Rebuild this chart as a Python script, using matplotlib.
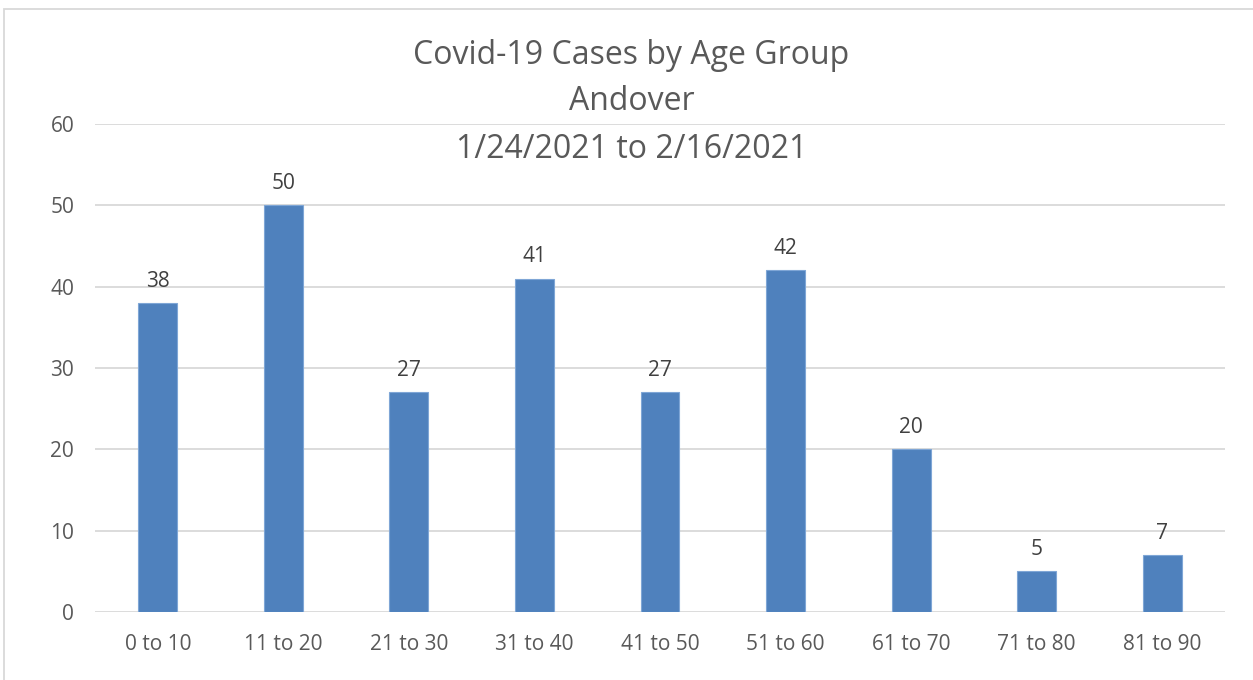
import matplotlib.pyplot as plt
import numpy as np
from matplotlib.patches import Rectangle

age_groups = ['0 to 10', '11 to 20', '21 to 30', '31 to 40', '41 to 50',
              '51 to 60', '61 to 70', '71 to 80', '81 to 90']
cases = [38, 50, 27, 41, 27, 42, 20, 5, 7]
yticks = [0, 10, 20, 30, 40, 50, 60]

plt.rcParams['font.family'] = ['Open Sans', 'DejaVu Sans']
grey = '#595959'

fig = plt.figure(figsize=(12.53, 6.8), dpi=100)
W, H = 1253, 680
ax = fig.add_axes([95 / W, 1 - 612 / H, (1225 - 95) / W, (612 - 124) / H])

x = np.arange(len(age_groups))
bars = ax.bar(x, cases, width=0.31, color='#4F81BD', edgecolor='#7FA6D6', linewidth=0.8, zorder=3)
ax.bar_label(bars, padding=8, fontsize=15, color='#404040')

ax.set_xlim(-0.5, len(age_groups) - 0.5)
ax.set_ylim(0, 60)
ax.set_yticks(yticks)
ax.set_xticks(x, age_groups)
ax.grid(axis='y', color='#D9D9D9', linewidth=1.3, zorder=0)
for s in ax.spines.values():
    s.set_visible(False)
ax.tick_params(length=0, labelsize=15, labelcolor=grey)
ax.tick_params(axis='y', pad=15)
ax.tick_params(axis='x', pad=16)

fig.text(0.504, 1 - 56 / H, 'Covid-19 Cases by Age Group', ha='center', va='center', fontsize=23, color=grey)
fig.text(0.504, 1 - 102 / H, 'Andover', ha='center', va='center', fontsize=23, color=grey)
fig.text(0.504, 1 - 149 / H, '1/24/2021 to 2/16/2021', ha='center', va='center', fontsize=23, color=grey)

fig.patches.append(Rectangle((4 / W, -0.1), 1.2, 1 - 9 / H + 0.1, transform=fig.transFigure,
                             fill=False, edgecolor='#D9D9D9', linewidth=1.3))

fig.savefig('out.png', dpi=100)
